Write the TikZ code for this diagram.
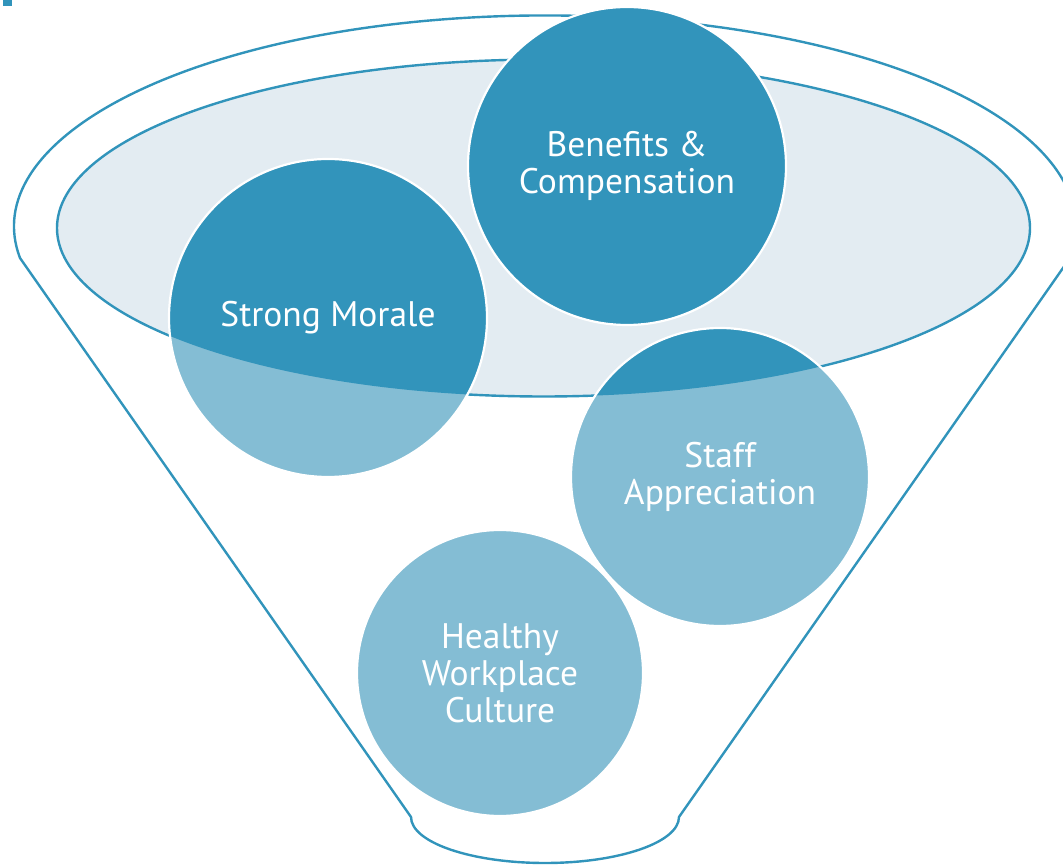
\documentclass[tikz,border=0pt]{standalone}
\usepackage{fontspec}
\setmainfont{PT Sans}
\definecolor{funnelblue}{HTML}{3194BB}
\definecolor{deepball}{HTML}{3294BB}
\definecolor{paleball}{HTML}{84BDD4}
\definecolor{rimfill}{HTML}{E3ECF2}
\begin{document}
\begin{tikzpicture}[x=1pt,y=1pt,
  outline/.style={draw=funnelblue,line width=2.4pt},
  ball/.style={circle,draw=white,line width=2.2pt,text=white,align=center,
    font=\fontsize{35.5}{37}\selectfont,inner sep=0pt}]
\useasboundingbox (0,0) rectangle (1063,865);
% small corner mark
\fill[funnelblue] (3,859) rectangle (12,865);
% funnel body: top rim, straight sides and rounded spout
\draw[outline,line join=round]
  (20,607) arc[start angle=188.6,end angle=-8.6,x radius=531,y radius=211]
  -- (679,48) arc[start angle=0,end angle=-180,x radius=134,y radius=46]
  -- cycle;
% funnel mouth
\draw[outline,fill=rimfill] (543.5,637) ellipse[x radius=486.5,y radius=168.5];
% balls, pale below the mouth
\fill[paleball] (627,699) circle[radius=159];
\fill[paleball] (328,547) circle[radius=159];
\fill[paleball] (720,388) circle[radius=149];
\fill[paleball] (500,192) circle[radius=143];
% balls, deep inside and above the mouth
\begin{scope}
  \clip (57,637) arc[start angle=180,end angle=360,x radius=486.5,y radius=168.5]
    -- (1063,637) -- (1063,865) -- (0,865) -- (0,637) -- cycle;
  \fill[deepball] (627,699) circle[radius=159];
  \fill[deepball] (328,547) circle[radius=159];
  \fill[deepball] (720,388) circle[radius=149];
  \fill[deepball] (500,192) circle[radius=143];
\end{scope}
% labelled outlines
\node[ball,minimum size=318pt] (ben) at (627,699) {Benefits \&\\Compensation};
\node[ball,minimum size=318pt] (mor) at (328,547) {Strong Morale};
\node[ball,minimum size=298pt] (app) at (720,388) {Staff\\Appreciation};
\node[ball,minimum size=286pt] (cul) at (500,192) {Healthy\\Workplace\\Culture};
\end{tikzpicture}
\end{document}
